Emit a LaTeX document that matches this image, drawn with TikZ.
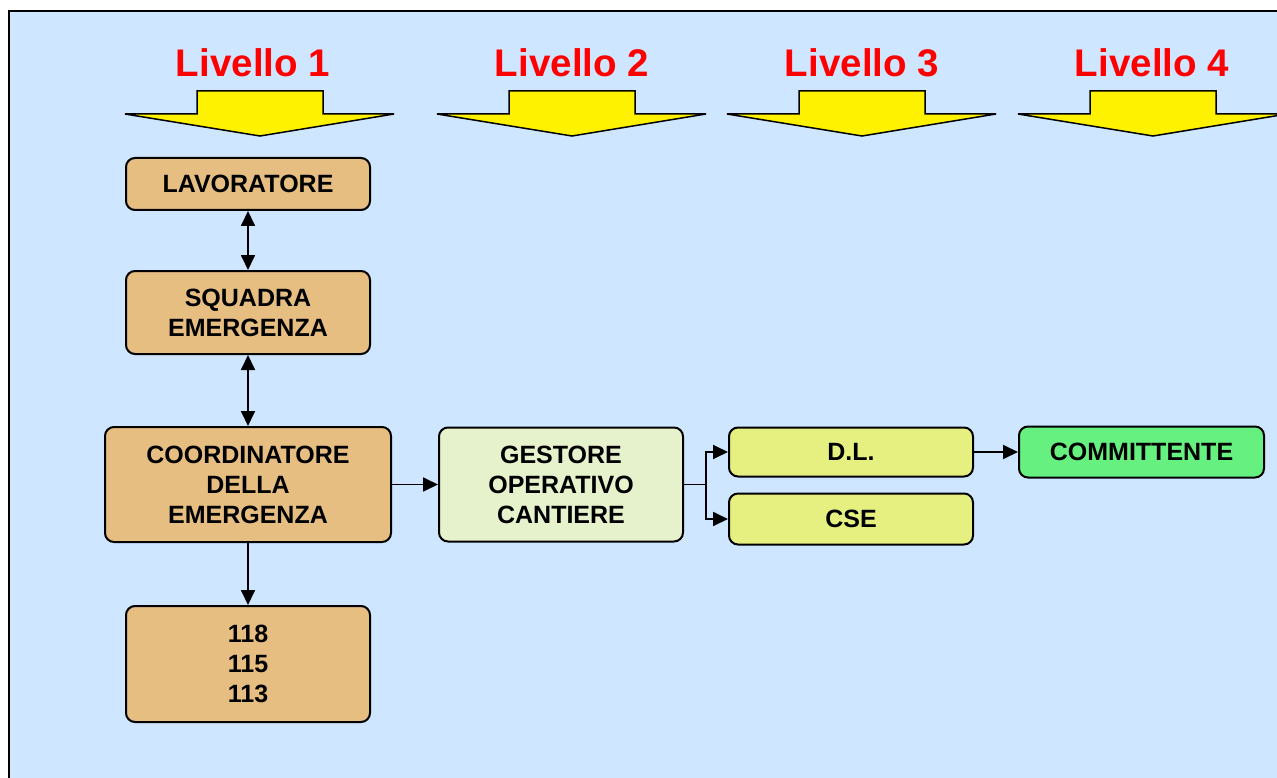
\documentclass[tikz,border=0pt]{standalone}
\usepackage{fontspec}
\setmainfont{Liberation Sans}
\usetikzlibrary{arrows.meta, positioning}

\definecolor{sfondo}{RGB}{206,230,255}
\definecolor{sabbia}{RGB}{230,190,130}
\definecolor{verdino}{RGB}{230,242,204}
\definecolor{giallino}{RGB}{230,240,128}
\definecolor{verde}{RGB}{102,240,128}

\begin{document}
\begin{tikzpicture}[x=1pt, y=-1pt, >={Triangle[length=15pt, width=14pt]}, line width=1.8pt]
\tikzstyle{box}=[draw=black, line width=2pt, rounded corners=9pt, inner sep=0pt, align=center, minimum width=244pt, font=\fontsize{25}{30}\selectfont\bfseries]
\tikzstyle{livello}=[text=red, anchor=base, font=\fontsize{38.5}{40}\selectfont\bfseries]
\tikzstyle{freccia}=[draw=black, line width=1.5pt, fill=yellow]

\useasboundingbox (0,0) rectangle (1277,778);
\clip (0,0) rectangle (1277,778);
\fill[white] (0,0) rectangle (1277,778);
\draw[line width=2.7pt, fill=sfondo] (9,11) rectangle (1300,800);

% livelli
\node[livello] (liv1) at (253,77) {Livello 1};
\node[livello] (liv2) at (572,77) {Livello 2};
\node[livello] (liv3) at (862,77) {Livello 3};
\node[livello] (liv4) at (1152,77) {Livello 4};

\draw[freccia] (197,91) -- (323,91) -- (323,114) -- (394,114) -- (260,136) -- (125,114) -- (197,114) -- cycle;
\draw[freccia, shift={(312,0)}] (197,91) -- (323,91) -- (323,114) -- (394,114) -- (260,136) -- (125,114) -- (197,114) -- cycle;
\draw[freccia, shift={(602,0)}] (197,91) -- (323,91) -- (323,114) -- (394,114) -- (260,136) -- (125,114) -- (197,114) -- cycle;
\draw[freccia, shift={(893,0)}] (197,91) -- (323,91) -- (323,114) -- (394,114) -- (260,136) -- (125,114) -- (197,114) -- cycle;

% riquadri
\node[box, fill=sabbia, minimum height=52pt] (lav) at (248,184) {LAVORATORE};
\node[box, fill=sabbia, minimum height=83pt] (squad) [below=59pt of lav] {SQUADRA\\EMERGENZA};
\node[box, fill=sabbia, minimum height=115pt, minimum width=286pt] (coord) [below=71pt of squad] {COORDINATORE\\DELLA\\EMERGENZA};
\node[box, fill=sabbia, minimum height=116pt] (num) [below=62pt of coord] {118\\115\\113};
\node[box, fill=verdino, minimum height=114pt] (ges) [right=46pt of coord] {GESTORE\\OPERATIVO\\CANTIERE};
\node[box, fill=giallino, minimum height=49pt] (dl) [right=44pt of ges.north east, anchor=north west] {D.L.};
\node[box, fill=giallino, minimum height=51pt] (cse) [below=15pt of dl] {CSE};
\node[box, fill=verde, minimum height=51pt, minimum width=245pt] (comm) [right=44pt of dl] {COMMITTENTE};

% collegamenti
\draw[<->] (lav) -- (squad);
\draw[<->] (squad) -- (coord);
\draw[->] (coord) -- (num);
\draw[->] (coord) -- (ges);
\draw[->] (ges.east) -- ++(22,0) |- (dl.west);
\draw[->] (ges.east) -- ++(22,0) |- (cse.west);
\draw[->] (dl) -- (comm);
\end{tikzpicture}
\end{document}
